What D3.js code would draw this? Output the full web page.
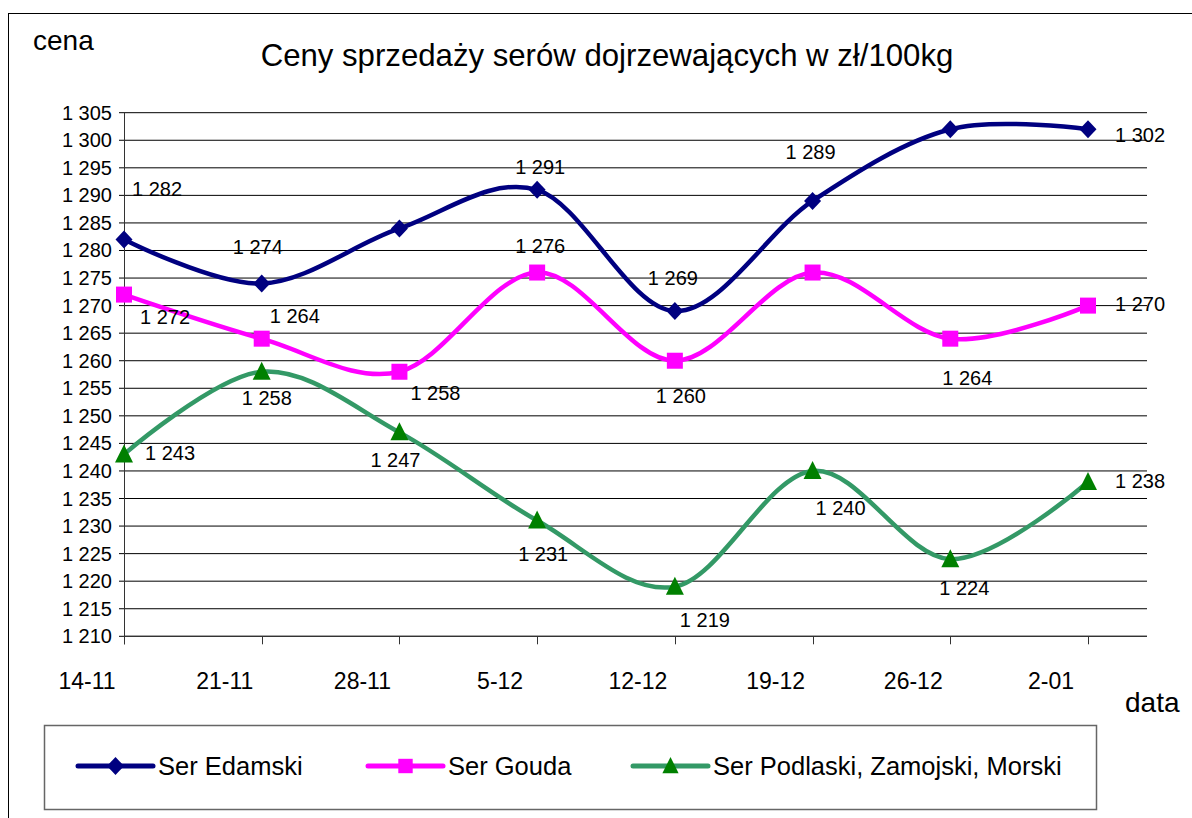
<!DOCTYPE html>
<html><head><meta charset="utf-8">
<script src="https://cdn.jsdelivr.net/npm/d3@7"></script>
<style>body{margin:0;background:#fff}svg{display:block;font-family:"Liberation Sans",Arial,sans-serif}</style>
</head><body><svg id="c" width="1192" height="818"></svg>
<script>
const categories = ["14-11","21-11","28-11","5-12","12-12","19-12","26-12","2-01"];
const seriesNames = ["Ser Edamski","Ser Gouda","Ser Podlaski, Zamojski, Morski"];
const edamski = [1282, 1274, 1284, 1291, 1269, 1289, 1302, 1302];
const gouda   = [1272, 1264, 1258, 1276, 1260, 1276, 1264, 1270];
const podlaski= [1243, 1258, 1247, 1231, 1219, 1240, 1224, 1238];
const yTicks = d3.range(1210, 1306, 5);
// which points carry a value label
const edamskiLabelShown = [true, true, false, true, true, true, false, true];
const goudaLabelShown   = [true, true, true, true, true, false, true, true];
const podlaskiLabelShown= [true, true, true, true, true, true, true, true];

// layout: label offsets (px) from the point, text anchored at start
const labelOffsets = [
  [[8,-43],[-29,-30],null,[-22,-16],[-27,-26],[-27,-42],null,[27,13]],
  [[16,29],[8,-16],[11,28],[-22,-20],[-19,42],null,[-8,46],[27,5]],
  [[21,6],[-20,33],[-29,35],[-19,40],[5,40],[3,44],[-11,36],[27,6]]
];

const svg = d3.select("#c");
const fmt = d3.formatLocale({decimal:",", thousands:" ", grouping:[3], currency:["",""]}).format(",");

const L = 124, R = 1147, T = 112.7, B = 636.3;
const x = d3.scaleLinear().domain([0, categories.length - 1]).range([L, 1088]);
const y = d3.scaleLinear().domain([1210, 1305]).range([B, T]);

// outer border
svg.append("rect").attr("x",8.5).attr("y",13.5).attr("width",1200).attr("height",900)
  .attr("fill","none").attr("stroke","#000").attr("stroke-width",1);

// gridlines
svg.append("g").selectAll("line").data(yTicks).join("line")
  .attr("x1", L - 5).attr("x2", R).attr("y1", d => y(d)).attr("y2", d => y(d))
  .attr("stroke", "#000").attr("stroke-width", 1);

// y tick labels
svg.append("g").selectAll("text").data(yTicks).join("text")
  .attr("x", 112).attr("y", d => y(d) + 7).attr("text-anchor","end")
  .attr("font-size", 20).attr("fill","#000").text(d => fmt(d));

// axes lines
svg.append("line").attr("x1",L+0.5).attr("x2",L+0.5).attr("y1",T).attr("y2",B+8)
  .attr("stroke","#333").attr("stroke-width",1);
svg.append("line").attr("x1",L).attr("x2",R).attr("y1",B).attr("y2",B)
  .attr("stroke","#333").attr("stroke-width",1.2);
svg.append("g").selectAll("line").data(categories).join("line")
  .attr("x1",(d,i)=>Math.round(x(i))+0.5).attr("x2",(d,i)=>Math.round(x(i))+0.5)
  .attr("y1",B).attr("y2",B+8).attr("stroke","#333");

// x labels
svg.append("g").selectAll("text").data(categories).join("text")
  .attr("x",(d,i)=>x(i)-37).attr("y",689).attr("text-anchor","middle")
  .attr("font-size",23).attr("fill","#000").text(d=>d);

// title
const title = svg.append("text").attr("x",607).attr("y",66).attr("text-anchor","middle")
  .attr("font-size",28).attr("fill","#000").text("Ceny sprzedaży serów dojrzewających w zł/100kg");
const tw = title.node().getComputedTextLength();
title.attr("font-size", 28 * 693 / tw);

svg.append("text").attr("x",33).attr("y",50).attr("font-size",28).text("cena");
svg.append("text").attr("x",1125).attr("y",712).attr("font-size",28).text("data");

// series
const series = [
  {name: seriesNames[0], values: edamski, shown: edamskiLabelShown, line:"#000080", marker:"#000080", sym:"diamond"},
  {name: seriesNames[1], values: gouda, shown: goudaLabelShown, line:"#FF00FF", marker:"#FF00FF", sym:"square"},
  {name: seriesNames[2], values: podlaski, shown: podlaskiLabelShown, line:"#339966", marker:"#008000", sym:"triangle"}
];

function marker(g, sym, color, cx, cy, s) {
  s = s || 1;
  if (sym === "diamond") {
    g.append("path").attr("d", `M${cx},${cy-9*s}L${cx+8.5*s},${cy}L${cx},${cy+9*s}L${cx-8.5*s},${cy}Z`).attr("fill", color);
  } else if (sym === "square") {
    g.append("rect").attr("x", cx-8*s).attr("y", cy-8*s).attr("width",16*s).attr("height",16*s).attr("fill", color);
  } else {
    g.append("path").attr("d", `M${cx},${cy-10*s}L${cx+9*s},${cy+8*s}L${cx-9*s},${cy+8*s}Z`).attr("fill", color);
  }
}

const line = d3.line().x((d,i)=>x(i)).y(d=>y(d)).curve(d3.curveCatmullRom.alpha(0));
series.forEach(s => {
  svg.append("path").attr("d", line(s.values)).attr("fill","none")
    .attr("stroke", s.line).attr("stroke-width", 4.5).attr("stroke-linejoin","round");
});
series.forEach(s => {
  const g = svg.append("g");
  s.values.forEach((v, i) => marker(g, s.sym, s.marker, x(i), y(v)));
});
series.forEach((s, si) => {
  s.values.forEach((v, i) => {
    const off = labelOffsets[si][i];
    if (!s.shown[i] || !off) return;
    svg.append("text").attr("x", x(i) + off[0]).attr("y", y(v) + off[1])
      .attr("font-size", 20).attr("fill","#000").text(fmt(v));
  });
});

// legend
const lg = svg.append("g");
lg.append("rect").attr("x",44.5).attr("y",725.5).attr("width",1052).attr("height",84)
  .attr("fill","#fff").attr("stroke","#666").attr("stroke-width",1.5);
const legendX = [78, 368, 633];
series.forEach((s, i) => {
  const x0 = legendX[i], cy = 766;
  lg.append("line").attr("x1", x0).attr("x2", x0 + 75).attr("y1", cy).attr("y2", cy)
    .attr("stroke", s.line).attr("stroke-width", 5).attr("stroke-linecap","round");
  marker(lg, s.sym, s.marker, x0 + 37.5, cy, s.sym === "diamond" ? 1 : 0.9);
  lg.append("text").attr("x", x0 + 80).attr("y", cy + 8.5).attr("font-size", 25.5)
    .attr("fill","#000").text(s.name);
});
</script>
</body></html>
